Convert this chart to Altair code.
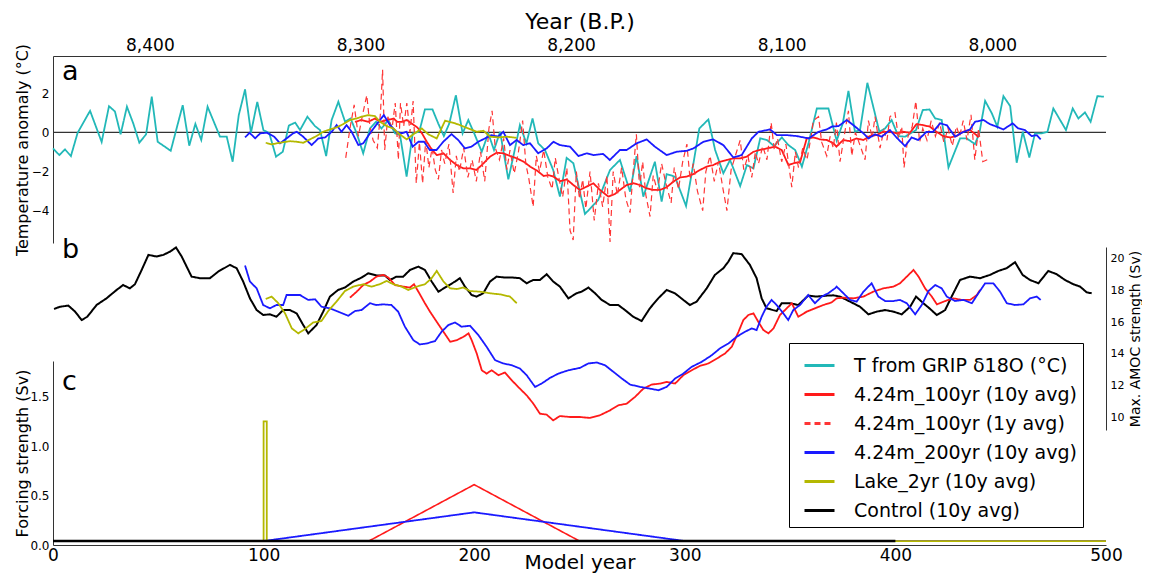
import altair as alt
import pandas as pd

# ---------------- data ----------------
SERIES = ["T from GRIP δ18O (°C)", "4.24m_100yr (10y avg)", "4.24m_100yr (1y avg)",
          "4.24m_200yr (10y avg)", "Lake_2yr (10y avg)", "Control (10y avg)"]
COLORS = ["#22B8B8", "#FF1A1A", "#FF3535", "#1A1AFF", "#B4B800", "#000000"]
DASHES = [[1, 0], [1, 0], [6, 4], [1, 0], [1, 0], [1, 0]]

X_TICKS = [0, 100, 200, 300, 400, 500]
BP_TICKS = [8400, 8300, 8200, 8100, 8000]
BP_EXTENT = [8446, 7946]
TEMP_TICKS = [-4, -2, 0, 2]
AMOC_TICKS = [10, 12, 14, 16, 18, 20]
FORC_TICKS = [0.0, 0.5, 1.0, 1.5]
PANEL_LABELS = ["a", "b", "c"]

# panel a: temperature anomaly (model year, degC)
GRIP = [(0, -0.82), (3, -1.16), (5.7, -0.87), (8.5, -1.21), (11.7, -0.02), (17.6, 1.1), (23.1, -0.49),
        (26.6, 1.34), (29.4, 1.07), (32.1, -0.1), (35.1, 1.31), (38.1, 0.46), (41, -0.53), (44.2, -0.1),
        (46.9, 1.82), (49.7, -0.48), (55.9, -0.94), (61.6, 1.39), (64.7, -0.68), (67.6, 0.43), (70.4, -0.39),
        (73.4, 1.31), (79.3, -0.22), (82.5, -0.22), (85.3, -1.5), (88.2, 0.88), (91.2, 2.19), (94, -0.02),
        (97, 1.56), (99.9, 0.12), (102.7, -0.05), (105.9, -1.24), (109.1, -0.99), (112, 0.35), (115, 0.5),
        (117.3, 0.12), (120.8, 0.8), (124.4, 0.32), (126.8, 0.12), (129.7, -1.21), (132.3, 0.63), (135.5, 1.56),
        (138.7, 0.54), (141.3, 0.71), (144.2, -0.05), (147.3, -1.07), (150.5, 0.2), (153.4, 0.54), (156, 0.2),
        (159.2, 0.63), (162.4, -0.05), (164.8, -0.14), (167.9, -2.26), (170.8, -0.05), (173.9, 0.03),
        (176.6, 1.17), (180.2, 1.17), (182.9, 0.46), (185.6, -0.19), (188.2, 0.46), (191.3, 1.9), (194.5, -0.05),
        (197.2, 0.63), (200, -0.05), (203.6, -0.99), (206.7, -0.05), (209.4, -0.9), (212.3, 0.03), (216.2, -2.4),
        (218.9, -1.07), (221.7, 0.37), (224.8, -0.56), (227.7, 0.71), (230.4, -0.56), (233.6, -0.9),
        (237.5, -1.92), (240.7, -3.28), (243.9, -1.3), (247.1, -1.58), (252.6, -4.17), (258.9, -3.45),
        (264.5, -1.92), (269.2, -1.41), (274, -3.03), (277.1, -1.21), (280.3, -3.28), (285.8, -1.5), (289, -3.54),
        (291.4, -2.13), (295.3, -2.26), (300.6, -3.76), (304.1, -1.58), (306.9, 0.2), (311.2, 0.66),
        (314.4, -0.9), (318.3, -2.09), (321.5, -1.41), (326.3, -2.74), (329.5, -1.67), (332.6, -1.84),
        (335.8, -0.31), (339, -0.39), (342.4, -0.7), (346.1, -0.26), (349.2, -0.65), (352.4, -0.9),
        (355.6, -1.75), (358.8, -0.53), (362.7, 1.22), (368.2, 1.22), (372.1, -0.42), (375, 0.45), (377.7, 2.12),
        (380.8, 0.03), (383.2, 0.12), (386.7, 2.53), (392.4, 0.03), (395.1, 0.2), (398.2, 0.63), (401.4, -0.19),
        (404.6, -0.22), (409.8, 0.12), (413, 1.14), (416.2, 1.17), (418.9, 0.71), (422, 0.63), (425.2, -1.79),
        (430.7, -0.31), (433.9, -0.31), (437.8, -0.6), (439.9, -0.02), (442.6, 1.61), (445.8, 0.97),
        (448.4, 0.29), (451.3, 1.85), (454.5, 1.34), (457.6, -1.55), (460.5, 0.03), (463.6, -1.28),
        (466.3, -0.05), (469.5, -0.05), (472.2, 0.03), (475, 1.22), (481, 0.12), (484.2, 1.22), (486.9, 0.71),
        (490, 1.02), (492.7, 0.54), (495.9, 1.85), (499, 1.82)]

RED10_A = [(143.4, 0.54), (146.5, 0.63), (149.7, 0.54), (152.9, 0.71), (155.2, 0.54), (158.7, 0.63),
           (161.8, 0.71), (163.4, 0.54), (165.6, 0.54), (168, 0.63), (170.2, 0.46), (173, 0.25), (175.2, -0.05),
           (177.5, -0.48), (180, -0.9), (182.2, -1.16), (185.4, -1.07), (188.6, -1.41), (191.7, -1.67),
           (194.9, -1.84), (198, -1.84), (201, -1.92), (203.6, -1.67), (207.5, -1.24), (210.6, -1.04),
           (213.8, -1.07), (217.1, -1.21), (220.3, -1.33), (223.5, -1.5), (226.6, -1.75), (229.8, -1.95),
           (233, -2.23), (235.3, -2.18), (237.7, -2.26), (240.8, -2.5), (243.9, -2.4), (247.1, -2.69),
           (250.2, -2.94), (253.4, -2.77), (256.6, -2.6), (259.7, -2.94), (263.7, -3.28), (266.8, -3.15),
           (269.2, -2.94), (272.4, -2.69), (275.5, -2.6), (278.7, -2.69), (281.9, -2.86), (285, -2.94),
           (288.2, -2.94), (291.4, -2.8), (294.5, -2.52), (297.7, -2.3), (300.9, -2.26), (304, -2.13),
           (307.2, -1.92), (310.4, -1.75), (313.5, -1.67), (316.7, -1.5), (319.9, -1.41), (323, -1.33),
           (326.2, -1.33), (329.4, -1.24), (332.6, -0.99), (335.7, -0.9), (338.9, -0.82), (342.9, -0.73),
           (346, -0.9), (349.2, -1.67), (351.6, -1.58), (354.8, -1.5), (357.9, -0.31), (361.1, -0.26),
           (364.3, -0.36), (367.4, -0.39), (370.6, -0.56), (372, -0.73), (375.2, -0.39), (378.4, -0.45),
           (381.5, -0.31), (384.7, -0.39), (387.9, -0.19), (391, -0.14), (394.2, 0.03), (397.4, 0.03),
           (400.5, -0.05), (403.7, 0.03), (406.9, -0.02), (410, 0.42), (413.2, 0.37), (416.4, 0.29),
           (419.5, 0.03), (422.7, -0.19), (425.9, -0.26), (429, -0.19), (432.2, 0.03), (435.4, 0.12),
           (438.5, -0.14), (439.5, -0.26)]

RED1_A = [(139, -1.3), (141, 0.2), (143, 1.4), (145, -0.2), (147, 0.9), (149, 1.9), (150.5, 0.3), (152, -0.4),
          (154, -0.8), (155.5, 1.0), (156.5, 3.2), (157.5, -0.9), (159, 0.8), (161, 0.2), (162.5, 1.5),
          (164, -1.4), (165, 1.5), (166.5, 0.3), (168, 1.5), (169.5, 0.0), (171, 1.6), (172.5, -2.6), (174, -0.5),
          (175.5, -2.6), (177, -0.4), (178.5, -1.8), (180, -0.8), (181.5, -1.9), (183, -2.4), (184.5, -0.9),
          (186, -1.6), (188, -0.6), (190, -3.1), (191.5, -1.2), (193, -2.0), (195, -0.8), (197, -2.3),
          (199, -1.4), (201, -2.5), (203, -1.0), (205, -2.5), (207, 0.2), (208.5, 1.1), (210, -0.8), (212, -1.4),
          (214, -0.3), (215.5, -1.9), (217, -0.9), (219, -2.1), (221, -1.0), (223, 0.6), (224.5, -1.6),
          (226, -2.4), (228, -3.8), (229.5, -1.2), (231, -2.0), (233, -0.9), (235, -2.3), (237, -2.9),
          (238.5, -1.3), (240, -2.2), (242, -3.3), (244, -1.8), (245.5, -5.0), (247, -5.5), (248.5, -2.0),
          (250, -3.4), (251.5, -2.4), (253, -3.9), (255, -2.0), (257, -4.5), (259, -2.6), (261, -3.8),
          (263, -2.2), (264.5, -5.6), (266, -2.0), (268, -3.2), (270, -1.8), (272, -3.4), (274, -4.1),
          (275.5, -2.0), (277, -0.1), (278.5, -2.8), (280, -1.5), (281.5, -3.2), (283.5, -4.3), (285, -2.2),
          (287, -3.0), (289, -1.6), (291, -2.6), (293.5, -3.6), (295, -1.8), (297, -2.9), (299, -1.5),
          (301, -0.6), (302.5, -2.4), (304, -1.6), (306, -3.0), (308.5, -4.0), (310, -2.0), (312, -1.2),
          (314, -2.5), (316, -1.5), (318, -2.8), (320, -4.0), (322, -1.9), (324, -1.2), (326.3, -0.4),
          (328, -1.9), (330, -1.2), (331.8, -2.3), (333.5, -1.0), (335, -1.6), (337, -0.7), (339, -1.4),
          (341, 0.5), (342.5, -0.9), (344, -0.3), (346, -1.5), (348, -0.6), (350.8, -2.8), (352.5, -1.0),
          (354, -1.8), (356, -0.8), (358, -1.4), (360, -0.2), (361, 0.6), (363.5, 0.8), (365, -0.5),
          (367.4, -1.2), (369, -0.2), (370.5, -0.8), (372, 0.5), (373.7, -1.5), (375.5, -0.3), (377.7, 1.1),
          (379.3, -1.2), (381, 0.0), (383, -0.6), (385.6, -1.4), (387.2, 0.6), (389, -0.3), (390.3, 0.8),
          (392.7, -0.8), (394.5, 0.1), (396, -0.4), (397.4, 0.8), (399.8, 1.0), (401.5, -0.3), (403, 0.3),
          (404.1, -1.8), (406, -0.2), (408, 0.3), (409.7, 1.6), (411.5, -0.5), (413, 0.2), (415, -0.4),
          (417, 0.6), (419, -0.2), (421, 0.5), (423, -0.5), (425, 0.2), (427, -0.7), (429, 0.3), (430.5, -0.2),
          (432.2, 0.6), (434, -0.4), (435.9, 0.9), (437.7, -1.4), (439.5, 0.2), (441.5, -1.5), (443.6, -1.4)]

BLUE_A = [(91.2, -0.26), (93.3, -0.02), (96, -0.3), (98.4, -0.05), (101.6, -0.02), (105, -0.22), (107.8, -0.56),
          (111, -0.3), (114, -0.05), (115.7, 0.03), (118.8, -0.22), (122.8, -0.65), (126, -0.31), (129.2, -0.26),
          (132.3, 0.03), (134.7, 0.37), (137, 0.03), (139.4, 0.37), (141.8, 0.03), (145, -0.65), (147.3, -0.56),
          (150.5, -0.05), (154, 0.46), (157.1, 0.88), (160, 0.37), (163.1, 0.03), (165.5, -0.05), (167.9, 0.03),
          (170.8, -0.73), (173.5, -0.48), (176.2, -0.48), (178.9, -0.9), (182.1, -0.9), (185.3, -0.48),
          (189.2, -0.09), (192.4, -0.39), (195.6, -0.82), (198.7, -0.73), (201.9, -0.48), (205.1, -0.31),
          (208.2, -0.14), (211.4, -0.22), (213.8, 0.03), (217, -0.65), (220.1, -0.39), (223.3, -0.65),
          (226.5, -0.56), (230.4, -1.07), (234.4, -0.82), (237.6, -0.48), (240.7, -0.65), (245.5, -0.73),
          (249.5, -1.21), (253.4, -1.07), (256.6, -1.16), (261.2, -1.1), (264.4, -1.41), (269.2, -0.9),
          (272.4, -0.9), (277.1, -0.56), (281.9, -0.36), (285.8, -0.73), (291.4, -1.16), (296.1, -0.99),
          (300.9, -0.94), (304.1, -0.82), (308.8, -0.48), (313.5, -0.36), (318.3, -0.65), (323, -1.28),
          (327, -1.16), (331.8, -0.31), (335, 0.03), (340.5, 0.15), (343.7, -0.14), (348.4, -0.14),
          (353.2, -0.19), (358.8, -0.31), (363.5, 0.03), (367.4, 0.15), (370, 0.3), (373, 0.32), (376.9, 0.63),
          (380, 0.37), (384.8, -0.05), (387.2, -0.31), (390.3, -0.1), (393.5, -0.22), (397.4, 0.12),
          (400.5, -0.26), (404.6, -0.7), (407.7, -0.26), (410.8, -0.39), (414.8, 0.03), (417.9, 0.03),
          (421.2, 0.46), (424.4, 0.37), (428.3, -0.22), (431.5, -0.02), (435.4, 0.15), (437.8, 0.54),
          (441.8, 0.63), (444.9, 0.42), (448.1, 0.29), (451.3, 0.15), (455.7, 0.46), (458.3, 0.2), (461.5, 0.12),
          (464.7, -0.19), (467.1, -0.14), (469, -0.36)]

LAKE_A = [(101, -0.53), (103.8, -0.61), (107.8, -0.53), (112.5, -0.45), (115.7, -0.48), (118.8, -0.53),
          (122, -0.36), (125.1, -0.19), (128.3, 0.03), (131.5, 0.15), (134.6, 0.25), (137.8, 0.42), (141, 0.63),
          (144.2, 0.71), (146.5, 0.8), (149.7, 0.88), (152.9, 0.83), (155.2, 0.55), (158.4, 0.32), (161.6, 0.2),
          (164.7, -0.1), (167.9, -0.36), (171.1, -0.1), (175.1, 0.2), (178.2, -0.1), (182.2, -0.31), (186.2, 0.6),
          (190.1, 0.49), (193.3, 0.37), (197.2, 0.2), (201.2, 0.03), (204.4, 0.08), (207.5, -0.22),
          (211.5, -0.26), (215.4, -0.22), (220.1, -0.28)]

# panel b: maximum AMOC strength (Sv)
CONTROL_B = [(0.5, 16.84), (3.3, 16.98), (7.3, 17.05), (10.5, 16.67), (13.6, 16.14), (16.3, 16.35), (20.7, 17.09),
             (25.4, 17.51), (30.2, 18.04), (33.3, 18.35), (36.5, 18.14), (38.9, 18.4), (42.1, 19.3), (45.3, 20.25),
             (49.2, 20.15), (52.4, 20.25), (55.6, 20.46), (58.4, 20.72), (61.1, 20.15), (65.8, 18.88), (69.8, 18.78),
             (74.5, 18.78), (78.5, 19.2), (84, 19.62), (87.2, 19.41), (90.3, 18.57), (93.5, 17.51), (96.7, 16.77),
             (99.8, 16.46), (103, 16.5), (106.1, 16.35), (109.3, 16.77), (112.5, 16.77), (115.7, 16.56),
             (118.5, 15.9), (121.2, 15.3), (125.1, 15.82), (128.3, 16.67), (131.5, 17.62), (135.4, 18.04),
             (138.6, 18.19), (142.6, 18.57), (146.5, 18.82), (149.7, 19.09), (153.6, 18.95), (157.6, 18.95),
             (160, 18.67), (163.1, 18.88), (166.3, 18.88), (169.5, 19.3), (173.5, 19.51), (176.6, 19.3),
             (179.8, 18.57), (183, 17.93), (186.9, 18.25), (190.9, 18.57), (193.2, 18.78), (195.6, 18.25),
             (198.8, 17.72), (201.1, 17.62), (204.3, 17.83), (207.5, 18.57), (210.6, 18.88), (214.6, 18.82),
             (218.5, 18.82), (221.7, 18.78), (224.9, 18.46), (228, 18.67), (231.2, 18.67), (234.4, 19.03),
             (237.5, 18.57), (240.7, 18.25), (244.7, 17.51), (248.6, 17.83), (251, 17.93), (254.2, 18.19),
             (257.4, 17.83), (260.5, 17.41), (264.5, 17.09), (268.4, 17.09), (271.6, 16.77), (275.5, 16.35),
             (279.5, 16.08), (283.4, 16.88), (287.4, 17.51), (291.4, 18.04), (295.3, 17.83), (299.3, 17.41),
             (302.4, 17.09), (305.6, 17.3), (310.4, 18.14), (314.3, 18.99), (318.3, 19.41), (320.7, 19.83),
             (323, 20.36), (327, 20.3), (330.9, 19.62), (334.1, 18.78), (336.5, 17.51), (338.8, 16.88),
             (343.6, 16.71), (346, 17.2), (349.9, 17.2), (353.9, 17.09), (358.6, 17.68), (362.6, 17.62),
             (367.3, 17.68), (370.5, 17.7), (373.7, 17.62), (378.5, 17.3), (383.2, 16.98), (387.2, 16.5),
             (391.1, 16.67), (395.1, 16.77), (399.1, 16.67), (403, 16.5), (407, 16.98), (409.8, 17.62),
             (413.3, 17.2), (416.5, 16.84), (419.6, 16.46), (423.6, 16.77), (426.7, 17.62), (430.7, 18.67),
             (435.4, 18.88), (440.2, 18.78), (444.9, 18.99), (448.9, 19.24), (452.8, 19.41), (456.8, 19.79),
             (460.4, 18.99), (463.9, 18.67), (467.9, 18.46), (472.6, 19.24), (476.6, 19.03), (480.5, 18.67),
             (484.5, 18.4), (487.7, 18.25), (490.8, 17.89), (493.2, 17.83)]

BLUE_B = [(91.2, 19.58), (93.5, 18.57), (96.7, 18.14), (99.8, 17.09), (103, 16.88), (106.1, 17.09), (109.3, 17.09),
          (110.9, 17.72), (114, 17.72), (117.3, 17.72), (121.2, 17.41), (124.4, 17.45), (127.5, 16.98),
          (131.5, 16.88), (135.4, 16.67), (140.2, 16.41), (143.4, 16.71), (146.5, 16.77), (150.5, 17.2),
          (153.6, 17.09), (156.8, 17.13), (160.7, 17.09), (163.9, 16.67), (167.1, 15.72), (171.1, 14.87),
          (174.2, 14.6), (177.4, 14.66), (181.4, 14.81), (184.5, 15.4), (187.7, 15.82), (190.9, 15.99),
          (194, 15.72), (198, 15.78), (202, 15.19), (205.9, 14.45), (209.9, 13.61), (213.8, 13.4), (217.8, 13.29),
          (221.7, 13.08), (224.9, 12.66), (228.9, 11.92), (232, 12.13), (236, 12.49), (240, 12.76),
          (244.7, 12.97), (250.2, 13.12), (254.2, 13.4), (258.2, 13.46), (262.1, 13.29), (266.1, 12.87),
          (270.1, 12.45), (274, 12.07), (278.8, 11.92), (283.5, 11.81), (287.5, 11.71), (291.4, 11.92),
          (295.4, 12.45), (299.3, 12.76), (303.3, 13.19), (308, 13.5), (312.8, 13.92), (316.7, 14.35),
          (320.7, 14.66), (324.6, 15.08), (328.6, 15.4), (331.8, 15.61), (334.1, 15.51), (336.5, 16.35),
          (338.8, 16.98), (341.2, 17.41), (343.6, 17.09), (346.8, 16.56), (349.1, 16.14), (351.5, 16.77),
          (354.7, 17.09), (358.6, 17.72), (361.8, 17.2), (365, 17.62), (368.1, 17.83), (371.3, 18.14),
          (372.1, 18.25), (375.3, 17.83), (378.5, 17.41), (381.6, 17.3), (384.8, 17.93), (388.7, 18.46),
          (391.9, 17.62), (395.1, 17.34), (399.1, 17.34), (402.2, 17.41), (405.4, 17.2), (409.4, 16.5),
          (412.5, 17.09), (415.7, 17.97), (418.9, 18.35), (422, 18.14), (424.4, 17.62), (428.3, 17.34),
          (432.3, 17.41), (436.3, 17.2), (439.4, 17.83), (442.6, 18.46), (446.5, 18.46), (449.7, 17.93),
          (452.9, 17.2), (456.8, 17.09), (460.8, 17.13), (463.9, 17.51), (467.1, 17.62), (469, 17.41)]

RED_B = [(141, 17.55), (144.2, 17.93), (147.3, 18.35), (150.5, 18.57), (153.6, 18.88), (156.8, 18.99),
         (159.2, 18.82), (162.4, 18.35), (166.3, 18.25), (169.5, 18.19), (171.4, 18.4), (173.5, 17.93),
         (176.6, 17.2), (179, 16.67), (182.2, 16.03), (185.4, 15.4), (188.6, 14.77), (191.7, 14.87),
         (194.9, 15.08), (197.3, 15.3), (198.8, 14.87), (201.2, 14.03), (203.6, 12.97), (205.9, 12.76),
         (208.3, 12.97), (211.5, 12.66), (214.6, 12.83), (217.8, 12.34), (221.7, 11.81), (224.9, 11.39),
         (228.1, 10.86), (231.2, 10.23), (234.4, 10.17), (237.5, 9.81), (240.7, 10.08), (245.5, 10.02),
         (250.2, 10.02), (255, 9.96), (259.7, 10.13), (264.5, 10.44), (268.4, 10.76), (272.4, 10.86),
         (276.4, 11.29), (280.3, 11.81), (284.3, 12.07), (288.3, 12.13), (291.4, 12.24), (295.4, 12.13),
         (299.3, 12.66), (303.3, 12.97), (307.2, 13.25), (311.2, 13.4), (315.2, 13.71), (319.1, 14.03),
         (322.3, 14.45), (325.5, 15.4), (327.8, 16.14), (330.2, 16.46), (332.6, 16.56), (334.9, 16.03),
         (337.3, 15.51), (339.7, 15.3), (342.1, 15.61), (345.2, 16.46), (348.4, 16.88), (350.8, 17.2),
         (353.9, 16.35), (357.9, 16.67), (361.8, 16.88), (365.8, 17.09), (369.7, 17.25), (372.1, 17.51),
         (375.3, 17.55), (380, 17.51), (384.8, 17.62), (389.5, 17.93), (394.3, 18.14), (399.1, 18.25),
         (402.2, 18.46), (405.4, 18.88), (408.6, 19.3), (411, 18.88), (414.1, 18.14), (417.3, 17.62),
         (419.7, 17.13), (423.6, 17.34), (427.6, 17.51), (431.5, 17.41), (435.5, 17.41), (438.7, 17.72),
         (440.2, 18.04)]

LAKE_B = [(101, 17.47), (103.8, 17.62), (107, 17.2), (110.2, 16.56), (113.4, 15.61), (116.5, 15.3), (119.6, 15.57),
          (123.6, 15.99), (127.5, 16.08), (130.7, 16.71), (134.6, 17.3), (138.6, 17.97), (142.6, 18.25),
          (147.3, 18.4), (151.3, 18.25), (155.2, 18.4), (158.4, 18.61), (161.6, 18.4), (165.5, 18.25),
          (168.7, 18.04), (172.7, 18.25), (176.6, 18.4), (179.8, 18.78), (182.2, 19.24), (185.4, 18.57),
          (188.6, 18.14), (191.7, 18.1), (194.9, 18.19), (198, 17.97), (202.8, 17.93), (207.5, 17.83),
          (212.3, 17.76), (217, 17.62), (220.2, 17.2)]

# panel c: forcing strength (Sv)
LAKE_C = [(0, 0.04), (100, 0.04), (100, 1.25), (101.5, 1.25), (101.5, 0.04), (500, 0.04)]
BLUE_C = [(0, 0.04), (100, 0.04), (200, 0.33), (300, 0.04), (500, 0.04)]
RED_C = [(0, 0.04), (150, 0.04), (200, 0.61), (250, 0.04), (500, 0.04)]
CONTROL_C = [(0, 0.04), (400, 0.04)]
ZERO_A = [(0, 0.0), (500, 0.0)]

# ---------------- layout ----------------
W, H = 1053, 489
FONT = "DejaVu Sans"
PANEL_A = dict(domain=[-5.65, 3.9], range=[187, 0])
PANEL_B = dict(domain=[9.2, 20.75], range=[374, 191])
PANEL_C = dict(domain=[0, 1.86], range=[489, 305])

LEGEND = alt.Legend(title=None, orient="none", legendX=736, legendY=287, symbolType="stroke",
                    symbolSize=900, symbolStrokeWidth=3, labelFontSize=19, labelFont=FONT,
                    labelColor="black", labelOffset=18, symbolOffset=8, rowPadding=2, padding=6,
                    strokeColor="black", fillColor="white", labelLimit=400)

AXIS_COMMON = dict(grid=False, ticks=False, domainColor="#333333", domainWidth=1,
                   labelFont=FONT, titleFont=FONT, labelColor="black", titleColor="black",
                   titleFontWeight="normal")


def x_enc(axis=None):
    sc = alt.Scale(domain=[0, 500], nice=False, zero=False)
    if axis is None:
        return alt.X("year:Q", scale=sc, axis=None)
    return alt.X("year:Q", scale=sc, axis=axis)


def y_enc(panel, axis=None):
    sc = alt.Scale(domain=panel["domain"], range=panel["range"], nice=False, zero=False)
    if axis is None:
        return alt.Y("v:Q", scale=sc, axis=None)
    return alt.Y("v:Q", scale=sc, axis=axis)


def frame(pairs, name):
    df = pd.DataFrame(pairs, columns=["year", "v"])
    df["series"] = name
    df["i"] = range(len(df))
    return df


def series_line(pairs, name, panel, width, yaxis=None, xaxis=None):
    return alt.Chart(frame(pairs, name)).mark_line(strokeWidth=width, clip=False).encode(
        x=x_enc(xaxis),
        y=y_enc(panel, yaxis),
        order=alt.Order("i:Q"),
        color=alt.Color("series:N", scale=alt.Scale(domain=SERIES, range=COLORS), legend=LEGEND),
        strokeDash=alt.StrokeDash("series:N", scale=alt.Scale(domain=SERIES, range=DASHES), legend=LEGEND),
    )


bottom_axis = alt.Axis(orient="bottom", values=X_TICKS, title="Model year", labelFontSize=17,
                       labelPadding=2, labelFlush=False, titleFontSize=20, titleBaseline="alphabetic",
                       titleY=23, **AXIS_COMMON)
temp_axis = alt.Axis(orient="left", values=TEMP_TICKS, title="Temperature anomaly (°C)", labelFontSize=12,
                     labelPadding=4, titleFontSize=16, titleX=-31, titleBaseline="middle", **AXIS_COMMON)
amoc_axis = alt.Axis(orient="right", values=AMOC_TICKS, title="Max. AMOC strength (Sv)", labelFontSize=11,
                     labelPadding=4, titleFontSize=14, titleAngle=270, titleX=29, titleBaseline="middle",
                     **AXIS_COMMON)
forc_axis = alt.Axis(orient="left", values=FORC_TICKS, format=".1f", title="Forcing strength (Sv)",
                     labelFontSize=12, labelPadding=4, titleFontSize=16, titleX=-31, titleBaseline="middle",
                     **AXIS_COMMON)
top_axis = alt.Axis(orient="top", values=BP_TICKS, labelExpr="format(datum.value, ',.0f')",
                    title="Year (B.P.)", labelFontSize=17, labelPadding=2, labelFlush=False, titleFontSize=22,
                    titleBaseline="alphabetic", titleY=-28, **AXIS_COMMON)

top_layer = alt.Chart(pd.DataFrame({"bp": BP_EXTENT})).mark_point(opacity=0).encode(
    x=alt.X("bp:Q", scale=alt.Scale(domain=[min(BP_EXTENT), max(BP_EXTENT)], reverse=True,
                                     nice=False, zero=False), axis=top_axis),
    y=alt.value(0),
)

zero_layer = alt.Chart(frame(ZERO_A, "zero")).mark_line(color="#333333", strokeWidth=1.2).encode(
    x=x_enc(), y=y_enc(PANEL_A), order=alt.Order("i:Q"))

layers = [
    top_layer,
    zero_layer,
    # panel a
    series_line(GRIP, SERIES[0], PANEL_A, 1.8, yaxis=temp_axis, xaxis=bottom_axis),
    series_line(RED10_A, SERIES[1], PANEL_A, 1.8),
    series_line(RED1_A, SERIES[2], PANEL_A, 1.2),
    series_line(BLUE_A, SERIES[3], PANEL_A, 1.8),
    series_line(LAKE_A, SERIES[4], PANEL_A, 1.8),
    # panel b
    series_line(CONTROL_B, SERIES[5], PANEL_B, 2.0, yaxis=amoc_axis),
    series_line(RED_B, SERIES[1], PANEL_B, 1.8),
    series_line(BLUE_B, SERIES[3], PANEL_B, 1.8),
    series_line(LAKE_B, SERIES[4], PANEL_B, 1.8),
    # panel c
    series_line(RED_C, SERIES[1], PANEL_C, 1.6, yaxis=forc_axis),
    series_line(BLUE_C, SERIES[3], PANEL_C, 1.8),
    series_line(LAKE_C, SERIES[4], PANEL_C, 1.8),
    series_line(CONTROL_C, SERIES[5], PANEL_C, 2.5),
]

label_y = [24, 202, 334]
for lab, yy in zip(PANEL_LABELS, label_y):
    layers.append(
        alt.Chart(pd.DataFrame({"t": [lab]})).mark_text(
            fontSize=27, font=FONT, align="left", baseline="alphabetic", color="black"
        ).encode(text="t:N", x=alt.value(9), y=alt.value(yy))
    )

chart = alt.layer(*layers).resolve_scale(x="independent", y="independent").properties(
    width=W, height=H,
    autosize=alt.AutoSizeParams(type="none"),
    padding={"left": 45, "top": 48, "right": 36, "bottom": 28},
).configure_view(strokeWidth=0)

chart.save("out.html", embed_options={"renderer": "svg", "actions": False})
